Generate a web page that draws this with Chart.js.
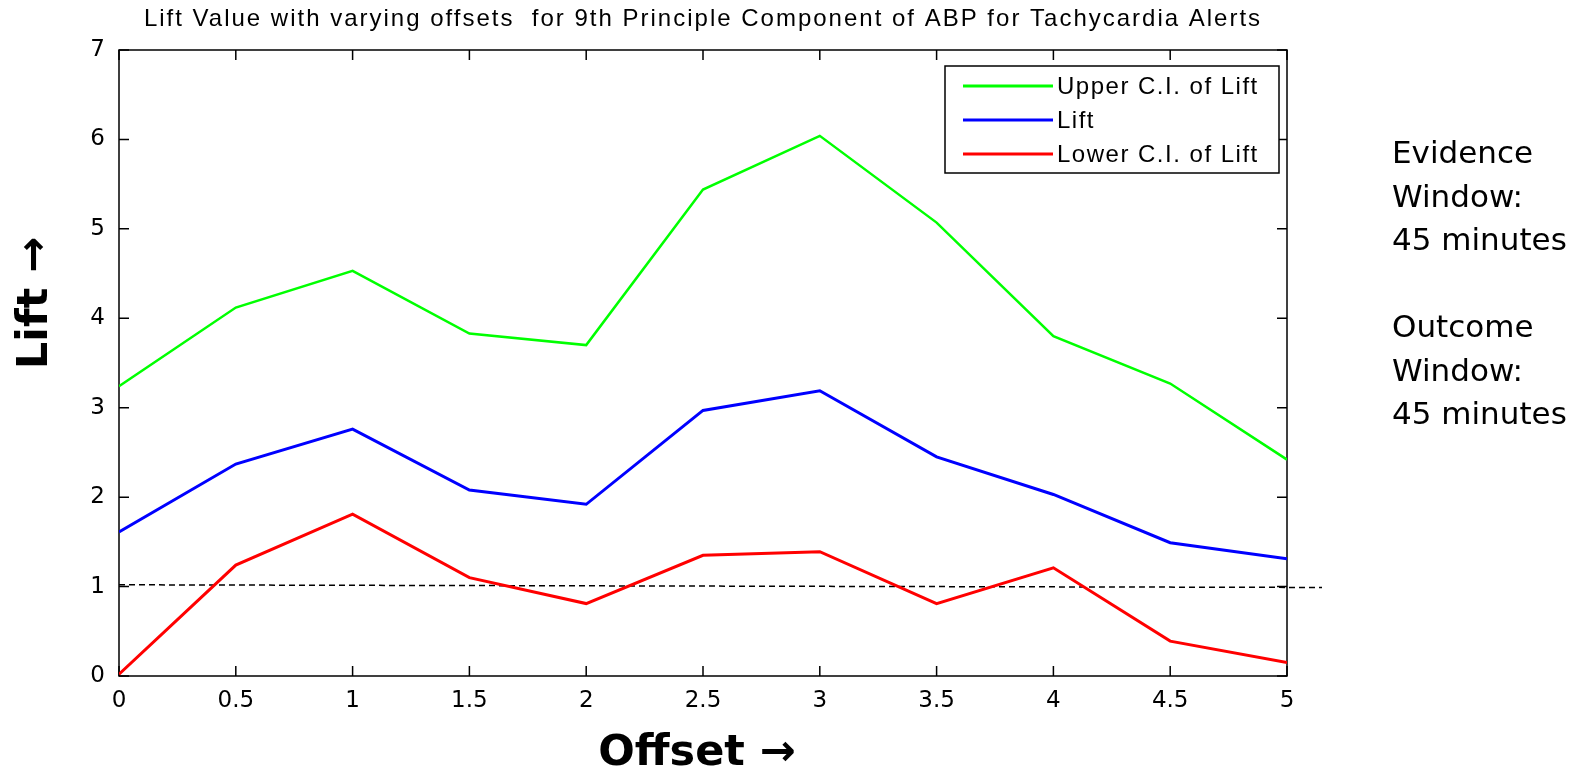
<!DOCTYPE html>
<html>
<head>
<meta charset="utf-8">
<script src="https://cdn.jsdelivr.net/npm/chart.js@4/dist/chart.umd.min.js"></script>
<style>
    html, body { margin: 0; padding: 0; background: #fff; }
    canvas { display: block; }
</style>
</head>
<body>
<canvas id="liftChart" width="1576" height="776"></canvas>
<script>
/* global Chart */
const offsets = [0, 0.5, 1, 1.5, 2, 2.5, 3, 3.5, 4, 4.5, 5];
const upperCI = [3.24, 4.12, 4.53, 3.83, 3.70, 5.44, 6.04, 5.07, 3.80, 3.27, 2.42];
const lift = [1.61, 2.37, 2.76, 2.08, 1.92, 2.97, 3.19, 2.45, 2.03, 1.49, 1.31];
const lowerCI = [0.02, 1.24, 1.81, 1.10, 0.81, 1.35, 1.39, 0.81, 1.21, 0.39, 0.15];

// dashed reference line at lift = 1 (runs a bit past the right axis)
const refX = [0, 5.15];
const refY = [1.02, 0.99];

const seriesNames = ['Upper C.I. of Lift', 'Lift', 'Lower C.I. of Lift'];
const chartTitle = 'Lift Value with varying offsets  for 9th Principle Component of ABP for Tachycardia Alerts';
const sideNotes = ['Evidence', 'Window:', '45 minutes', '', 'Outcome', 'Window:', '45 minutes'];

const SMALL_FONT = '"Liberation Sans", Arial, sans-serif';
const BIG_FONT = '"DejaVu Sans", Verdana, sans-serif';

const toPoints = (xs, ys) => xs.map((x, i) => ({ x: x, y: ys[i] }));

const decor = {
    id: 'decor',
    beforeDatasetsDraw(chart) {
        const { ctx, chartArea: a, scales } = chart;
        ctx.save();
        ctx.strokeStyle = '#000';
        ctx.lineWidth = 1.5;
        ctx.strokeRect(a.left, a.top, a.right - a.left, a.bottom - a.top);
        const len = 10;
        ctx.beginPath();
        scales.x.ticks.forEach(t => {
            const px = scales.x.getPixelForValue(t.value);
            ctx.moveTo(px, a.bottom); ctx.lineTo(px, a.bottom - len);
            ctx.moveTo(px, a.top); ctx.lineTo(px, a.top + len);
        });
        scales.y.ticks.forEach(t => {
            const py = scales.y.getPixelForValue(t.value);
            ctx.moveTo(a.left, py); ctx.lineTo(a.left + len, py);
            ctx.moveTo(a.right, py); ctx.lineTo(a.right - len, py);
        });
        ctx.stroke();
        ctx.restore();
    },
    afterDraw(chart) {
        const { ctx, chartArea: a } = chart;
        ctx.save();
        ctx.fillStyle = '#000';

        // title
        ctx.font = '24px ' + SMALL_FONT;
        ctx.letterSpacing = '2px';
        ctx.textAlign = 'center';
        ctx.textBaseline = 'middle';
        ctx.fillText(chartTitle, (a.left + a.right) / 2, 19);
        ctx.letterSpacing = '0px';

        // axis titles
        ctx.font = 'bold 43px ' + BIG_FONT;
        ctx.fillText('Offset \u2192', 697, 754);
        ctx.save();
        ctx.translate(36, 303);
        ctx.rotate(-Math.PI / 2);
        ctx.fillText('Lift \u2192', 0, 0);
        ctx.restore();

        // legend
        const lx = 945, ly = 66, lw = 334, lh = 107;
        ctx.fillStyle = '#fff';
        ctx.fillRect(lx, ly, lw, lh);
        ctx.strokeStyle = '#000';
        ctx.lineWidth = 1.5;
        ctx.strokeRect(lx, ly, lw, lh);
        ctx.font = '24px ' + SMALL_FONT;
        ctx.letterSpacing = '1.5px';
        ctx.textAlign = 'left';
        chart.data.datasets.slice(0, 3).forEach((ds, i) => {
            const y = ly + 20 + i * 34;
            ctx.strokeStyle = ds.borderColor;
            ctx.lineWidth = 3;
            ctx.beginPath();
            ctx.moveTo(lx + 18, y); ctx.lineTo(lx + 108, y);
            ctx.stroke();
            ctx.fillStyle = '#000';
            ctx.fillText(ds.label, lx + 112, y + 1);
        });
        ctx.letterSpacing = '0px';

        // side notes
        ctx.font = '31px ' + BIG_FONT;
        sideNotes.forEach((txt, i) => {
            if (txt) ctx.fillText(txt, 1392, 155 + i * 43.5);
        });
        ctx.restore();
    }
};

new Chart(document.getElementById('liftChart'), {
    type: 'line',
    data: {
        datasets: [
            {
                label: seriesNames[0],
                data: toPoints(offsets, upperCI),
                borderColor: '#00ff00',
                borderWidth: 2.5
            },
            {
                label: seriesNames[1],
                data: toPoints(offsets, lift),
                borderColor: '#0000ff',
                borderWidth: 3
            },
            {
                label: seriesNames[2],
                data: toPoints(offsets, lowerCI),
                borderColor: '#ff0000',
                borderWidth: 3
            },
            {
                label: 'ref',
                data: toPoints(refX, refY),
                borderColor: '#000',
                borderWidth: 1.5,
                borderDash: [6, 4],
                clip: false
            }
        ]
    },
    options: {
        responsive: false,
        animation: false,
        events: [],
        elements: {
            point: { radius: 0 },
            line: { tension: 0, fill: false }
        },
        layout: { padding: { left: 0, top: 50, right: 289, bottom: 0 } },
        plugins: {
            legend: { display: false },
            title: { display: false },
            tooltip: { enabled: false }
        },
        scales: {
            x: {
                type: 'linear',
                min: 0,
                max: 5,
                ticks: {
                    stepSize: 0.5,
                    color: '#000',
                    padding: 3,
                    maxRotation: 0,
                    callback: v => String(v),
                    font: { family: BIG_FONT, size: 23 }
                },
                grid: { display: false },
                border: { display: false },
                afterFit: s => { s.height = 100; }
            },
            y: {
                type: 'linear',
                min: 0,
                max: 7,
                ticks: {
                    stepSize: 1,
                    color: '#000',
                    padding: 6,
                    callback: v => String(v),
                    font: { family: BIG_FONT, size: 23 }
                },
                grid: { display: false },
                border: { display: false },
                afterFit: s => { s.width = 119; }
            }
        }
    },
    plugins: [decor]
});
</script>
</body>
</html>
